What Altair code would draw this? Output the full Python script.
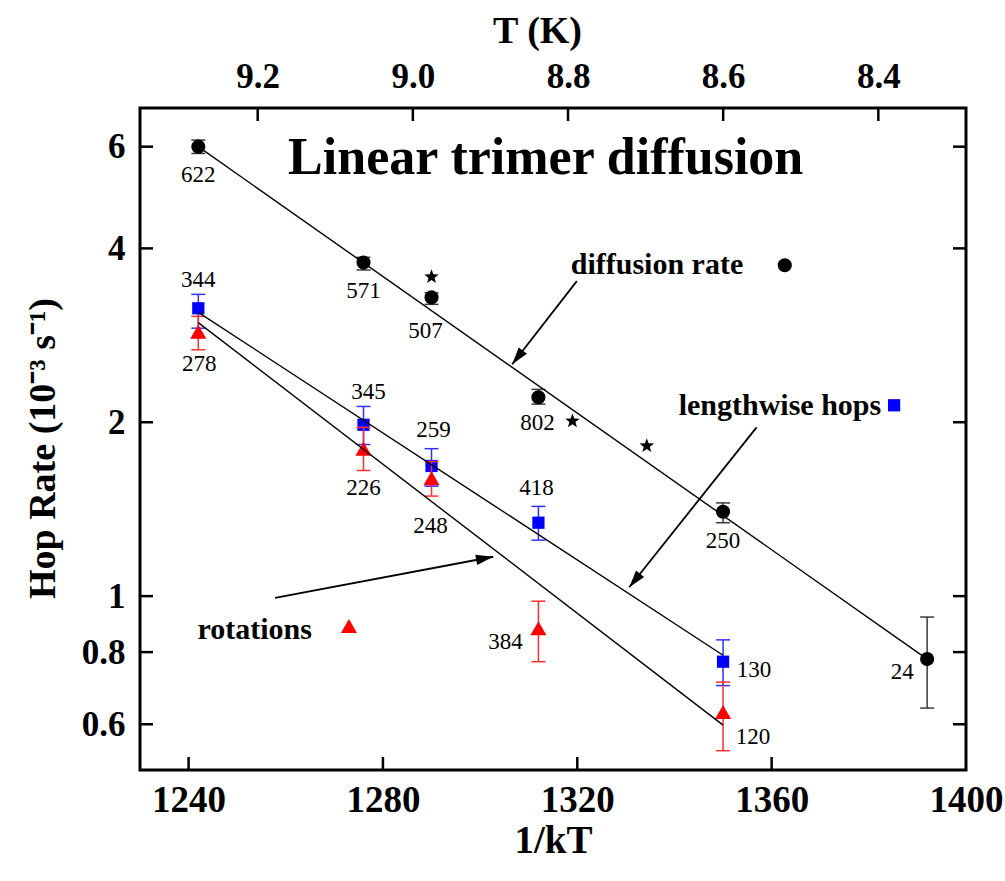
import math
import altair as alt
import pandas as pd

# plot-area size in pixels and the scale domains
W, H = 826, 662
X_DOMAIN = [1230, 1400]
Y_DOMAIN = [0.5, 7.0]
T_DOMAIN = [9.3517, 8.287]
FONT = "Liberation Serif"

# ---- data: hop rates (10^-3 s^-1) against 1/kT -------------------------
diff_x = [1242, 1276, 1290, 1312, 1350, 1392]
diff_rate = [6.00, 3.78, 3.29, 2.21, 1.40, 0.778]
diff_lo = [5.84, 3.67, 3.20, 2.15, 1.34, 0.64]
diff_hi = [6.16, 3.86, 3.35, 2.28, 1.45, 0.92]
diff_count = ["622", "571", "507", "802", "250", "24"]

star_x = [1290, 1319, 1334.3]
star_rate = [3.57, 2.01, 1.82]

hop_x = [1242, 1276, 1290, 1312, 1350]
hop_rate = [3.15, 1.98, 1.68, 1.34, 0.77]
hop_lo = [2.91, 1.83, 1.55, 1.25, 0.70]
hop_hi = [3.33, 2.13, 1.80, 1.43, 0.84]
hop_count = ["344", "345", "259", "418", "130"]

rot_x = [1242, 1276, 1290, 1312, 1350]
rot_rate = [2.87, 1.80, 1.60, 0.88, 0.63]
rot_lo = [2.67, 1.65, 1.49, 0.77, 0.54]
rot_hi = [3.05, 1.96, 1.71, 0.98, 0.71]
rot_count = ["278", "226", "248", "384", "120"]

# Arrhenius fit lines, given by their end points
fit_diff_x = [1242, 1392]
fit_diff_y = [6.0, 0.778]
fit_hop_x = [1242, 1350]
fit_hop_y = [3.10, 0.79]
fit_rot_x = [1242, 1350]
fit_rot_y = [2.975, 0.598]

# axis tick values
x_ticks = [1240, 1280, 1320, 1360, 1400]
y_ticks = [0.6, 0.8, 1, 2, 4, 6]
t_ticks = [9.2, 9.0, 8.8, 8.6, 8.4]

# pixel offsets of the count labels from their points
diff_off = [(0, 28), (0, 28), (-6, 34), (-1, 26), (0, 29), (-25, 13)]
hop_off = [(0, -28), (5, -33), (2, -36), (-2, -35), (31, 8)]
rot_off = [(1, 32), (0, 39), (-1, 48), (-33, 14), (30, 25)]

LOG_SPAN = math.log10(Y_DOMAIN[1] / Y_DOMAIN[0])


def shift(x, y, dx, dy):
    """Move a data point by a pixel offset, in data units."""
    return (x + dx * (X_DOMAIN[1] - X_DOMAIN[0]) / W,
            y * 10 ** (-dy * LOG_SPAN / H))


def series_frame(xv, yv, lo, hi, counts, offsets):
    rows = []
    for x, y, l, h, n, (dx, dy) in zip(xv, yv, lo, hi, counts, offsets):
        lx, ly = shift(x, y, dx, dy)
        rows.append(dict(x=x, y=y, lo=l, hi=h, n=n, lx=lx, ly=ly))
    return pd.DataFrame(rows)


xs = alt.Scale(domain=X_DOMAIN, nice=False, zero=False)
ys = alt.Scale(type="log", domain=Y_DOMAIN, nice=False)

x_axis = alt.Axis(
    orient="bottom", values=x_ticks, format="d", ticks=False, domain=False, grid=False,
    labelFont=FONT, labelFontWeight="bold", labelFontSize=37, labelColor="black",
    labelPadding=12, labelFlush=False, labelOverlap=False, labelBound=False,
    titleFont=FONT, titleFontWeight="bold", titleFontSize=39, titleColor="black",
    titleBaseline="middle", titleY=70,
)
y_axis = alt.Axis(
    orient="left", values=y_ticks, format="~g", ticks=False, domain=False, grid=False,
    labelFont=FONT, labelFontWeight="bold", labelFontSize=35, labelColor="black",
    labelPadding=15, labelFlush=False, labelOverlap=False, labelBound=False,
    titleFont=FONT, titleFontWeight="bold", titleFontSize=38, titleColor="black",
    titleBaseline="middle", titleX=-97, titleY=340, titleAngle=-90,
)
t_axis = alt.Axis(
    orient="top", values=t_ticks, format=".1f", ticks=False, domain=False, grid=False,
    labelFont=FONT, labelFontWeight="bold", labelFontSize=35, labelColor="black",
    labelPadding=14, labelFlush=False, labelOverlap=False, labelBound=False,
    titleFont=FONT, titleFontWeight="bold", titleFontSize=38, titleColor="black",
    titleBaseline="middle", titleY=-77, titleX=397,
)

X_TITLE = "1/kT"
Y_TITLE = "Hop Rate (10⁻³ s⁻¹)"


def X(f):
    return alt.X(f, type="quantitative", scale=xs, axis=x_axis, title=X_TITLE)


def Y(f):
    return alt.Y(f, type="quantitative", scale=ys, axis=y_axis, title=Y_TITLE)


# five-pointed star and arrow-head symbols
star_pts = []
for i in range(10):
    a = -math.pi / 2 + i * math.pi / 5
    r = 1.0 if i % 2 == 0 else 0.42
    star_pts.append(f"{r * math.cos(a):.3f},{r * math.sin(a):.3f}")
STAR = "M" + "L".join(star_pts) + "Z"
ARROW_HEAD = "M0,0L-0.6,2L0.6,2Z"

layers = []

# inward axis ticks
layers.append(alt.Chart(pd.DataFrame({"v": x_ticks[:-1]})).mark_rule(color="black", strokeWidth=2.5).encode(
    x=X("v"), y=alt.value(H), y2=alt.value(H - 13)))
yt = pd.DataFrame({"v": y_ticks})
layers.append(alt.Chart(yt).mark_rule(color="black", strokeWidth=2.5).encode(
    y=Y("v"), x=alt.value(0), x2=alt.value(13)))
layers.append(alt.Chart(yt).mark_rule(color="black", strokeWidth=2.5).encode(
    y=Y("v"), x=alt.value(W - 13), x2=alt.value(W)))

series = [
    (series_frame(diff_x, diff_rate, diff_lo, diff_hi, diff_count, diff_off), "black", "#3a3a3a", "circle", 200),
    (series_frame(hop_x, hop_rate, hop_lo, hop_hi, hop_count, hop_off), "#0000ff", "#3030ff", "square", 150),
    (series_frame(rot_x, rot_rate, rot_lo, rot_hi, rot_count, rot_off), "#ff0000", "#ff3030", "triangle-up", 260),
]

for df, col, bar_col, shape, size in series:
    base = alt.Chart(df)
    layers.append(base.mark_rule(color=bar_col, strokeWidth=1.5).encode(x=X("x"), y=Y("lo"), y2="hi"))
    for end in ("lo", "hi"):
        layers.append(base.mark_point(shape="stroke", size=196, strokeWidth=1.5, color=bar_col,
                                      filled=False, opacity=1).encode(x=X("x"), y=Y(end)))
    layers.append(base.mark_point(shape=shape, size=size, filled=True, color=col, opacity=1,
                                  strokeWidth=0).encode(x=X("x"), y=Y("y")))

layers.append(alt.Chart(pd.DataFrame({"x": star_x, "y": star_rate})).mark_point(
    shape=STAR, size=230, filled=True, color="black", opacity=1, strokeWidth=0).encode(x=X("x"), y=Y("y")))

# fitted lines
fits = pd.concat([
    pd.DataFrame({"x": fit_diff_x, "y": fit_diff_y, "fit": "diffusion"}),
    pd.DataFrame({"x": fit_hop_x, "y": fit_hop_y, "fit": "lengthwise"}),
    pd.DataFrame({"x": fit_rot_x, "y": fit_rot_y, "fit": "rotations"}),
])
layers.append(alt.Chart(fits).mark_line(color="black", strokeWidth=1.4).encode(
    x=X("x"), y=Y("y"), detail="fit:N"))

# count labels
for df, *_ in series:
    layers.append(alt.Chart(df).mark_text(font=FONT, fontSize=23, color="black",
                                          align="center", baseline="middle").encode(
        x=X("lx"), y=Y("ly"), text="n:N"))

# annotation texts and keys
ann_text = ["Linear trimer diffusion", "diffusion rate", "lengthwise hops", "rotations"]
ann_x = [1313.5, 1336.4, 1361.7, 1253.6]
ann_y = [5.74, 3.74, 2.13, 0.874]
ann_size = [52, 30, 30, 30]
ann = pd.DataFrame({"t": ann_text, "x": ann_x, "y": ann_y, "s": ann_size})
for s in sorted(set(ann_size)):
    layers.append(alt.Chart(ann[ann.s == s]).mark_text(
        font=FONT, fontWeight="bold", fontSize=s, color="black", align="center",
        baseline="middle").encode(x=X("x"), y=Y("y"), text="t:N"))

key_x = [1362.7, 1385.2, 1273.0]
key_y = [3.74, 2.14, 0.888]
key_shapes = [("circle", "black", 200), ("square", "#0000ff", 150), ("triangle-up", "#ff0000", 260)]
for kx, ky, (shp, col, sz) in zip(key_x, key_y, key_shapes):
    layers.append(alt.Chart(pd.DataFrame({"x": [kx], "y": [ky]})).mark_point(
        shape=shp, size=sz, filled=True, color=col, opacity=1, strokeWidth=0).encode(x=X("x"), y=Y("y")))

# arrows from the annotation texts to the fit lines
arrow_x = [1319.9, 1356.9, 1257.8]
arrow_y = [3.51, 1.96, 0.993]
arrow_x2 = [1306.6, 1330.7, 1302.7]
arrow_y2 = [2.52, 1.036, 1.170]
arrow_angle = [218.0, 218.6, 79.3]
arrows = pd.DataFrame({"x": arrow_x, "y": arrow_y, "x2": arrow_x2, "y2": arrow_y2, "a": arrow_angle})
layers.append(alt.Chart(arrows).mark_rule(color="black", strokeWidth=1.8).encode(
    x=X("x"), y=Y("y"), x2="x2", y2="y2"))
layers.append(alt.Chart(arrows).mark_point(shape=ARROW_HEAD, size=300, filled=True, color="black",
                                           opacity=1, strokeWidth=0).encode(
    x=X("x2"), y=Y("y2"), angle=alt.Angle("a:Q", scale=None)))

main = alt.layer(*layers)

# temperature axis along the top
t_layer = alt.Chart(pd.DataFrame({"T": t_ticks})).mark_rule(color="black", strokeWidth=2.5).encode(
    x=alt.X("T:Q", scale=alt.Scale(domain=T_DOMAIN, nice=False, zero=False), axis=t_axis, title="T (K)"),
    y=alt.value(0), y2=alt.value(13))

chart = alt.layer(main, t_layer).resolve_scale(x="independent").properties(
    width=W, height=H,
    autosize=alt.AutoSizeParams(type="none"),
    padding={"left": 140, "top": 108, "right": 39, "bottom": 111},
    background="white",
).configure_view(stroke="black", strokeWidth=3)

chart.save("out.html", embed_options={"renderer": "svg", "actions": False})
